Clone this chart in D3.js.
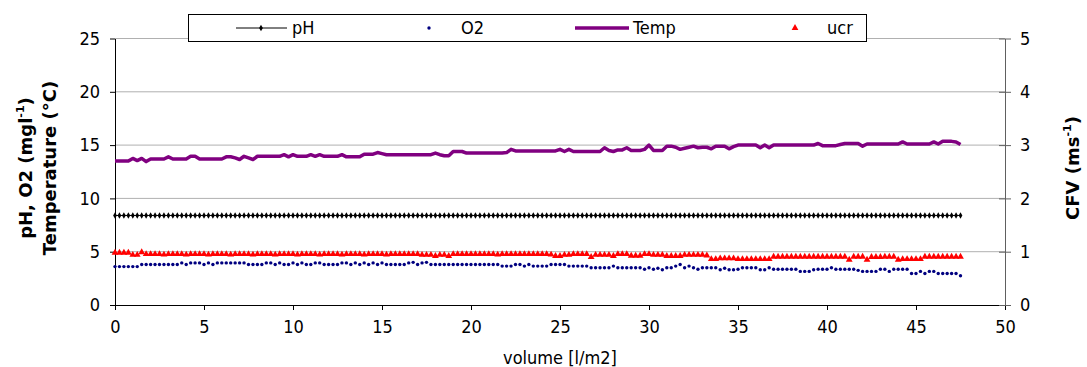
<!DOCTYPE html>
<html>
<head>
<meta charset="utf-8">
<script src="https://cdn.jsdelivr.net/npm/d3@7"></script>
<style>
  body { margin: 0; background: #fff; }
  svg { display: block; }
</style>
</head>
<body>
<div id="chart"></div>
<script>
// readings, one every 0.25 l/m2
const volume = [
  0,0.25,0.5,0.75,1,1.25,1.5,1.75,2,2.25,2.5,2.75,3,3.25,3.5,3.75,4,4.25,4.5,4.75,
  5,5.25,5.5,5.75,6,6.25,6.5,6.75,7,7.25,7.5,7.75,8,8.25,8.5,8.75,9,9.25,9.5,9.75,
  10,10.25,10.5,10.75,11,11.25,11.5,11.75,12,12.25,12.5,12.75,13,13.25,13.5,13.75,14,14.25,14.5,14.75,
  15,15.25,15.5,15.75,16,16.25,16.5,16.75,17,17.25,17.5,17.75,18,18.25,18.5,18.75,19,19.25,19.5,19.75,
  20,20.25,20.5,20.75,21,21.25,21.5,21.75,22,22.25,22.5,22.75,23,23.25,23.5,23.75,24,24.25,24.5,24.75,
  25,25.25,25.5,25.75,26,26.25,26.5,26.75,27,27.25,27.5,27.75,28,28.25,28.5,28.75,29,29.25,29.5,29.75,
  30,30.25,30.5,30.75,31,31.25,31.5,31.75,32,32.25,32.5,32.75,33,33.25,33.5,33.75,34,34.25,34.5,34.75,
  35,35.25,35.5,35.75,36,36.25,36.5,36.75,37,37.25,37.5,37.75,38,38.25,38.5,38.75,39,39.25,39.5,39.75,
  40,40.25,40.5,40.75,41,41.25,41.5,41.75,42,42.25,42.5,42.75,43,43.25,43.5,43.75,44,44.25,44.5,44.75,
  45,45.25,45.5,45.75,46,46.25,46.5,46.75,47,47.25,47.5
];

const pH = [
  8.4,8.4,8.4,8.4,8.4,8.4,8.4,8.4,8.4,8.4,8.4,8.4,8.4,8.4,8.4,8.4,8.4,8.4,8.4,8.4,
  8.4,8.4,8.4,8.4,8.4,8.4,8.4,8.4,8.4,8.4,8.4,8.4,8.4,8.4,8.4,8.4,8.4,8.4,8.4,8.4,
  8.4,8.4,8.4,8.4,8.4,8.4,8.4,8.4,8.4,8.4,8.4,8.4,8.4,8.4,8.4,8.4,8.4,8.4,8.4,8.4,
  8.4,8.4,8.4,8.4,8.4,8.4,8.4,8.4,8.4,8.4,8.4,8.4,8.4,8.4,8.4,8.4,8.4,8.4,8.4,8.4,
  8.4,8.4,8.4,8.4,8.4,8.4,8.4,8.4,8.4,8.4,8.4,8.4,8.4,8.4,8.4,8.4,8.4,8.4,8.4,8.4,
  8.4,8.4,8.4,8.4,8.4,8.4,8.4,8.4,8.4,8.4,8.4,8.4,8.4,8.4,8.4,8.4,8.4,8.4,8.4,8.4,
  8.4,8.4,8.4,8.4,8.4,8.4,8.4,8.4,8.4,8.4,8.4,8.4,8.4,8.4,8.4,8.4,8.4,8.4,8.4,8.4,
  8.4,8.4,8.4,8.4,8.4,8.4,8.4,8.4,8.4,8.4,8.4,8.4,8.4,8.4,8.4,8.4,8.4,8.4,8.4,8.4,
  8.4,8.4,8.4,8.4,8.4,8.4,8.4,8.4,8.4,8.4,8.4,8.4,8.4,8.4,8.4,8.4,8.4,8.4,8.4,8.4,
  8.4,8.4,8.4,8.4,8.4,8.4,8.4,8.4,8.4,8.4,8.4
];

const O2 = [
  3.6,3.6,3.6,3.6,3.6,3.6,3.8,3.8,3.8,3.8,
  3.8,3.8,3.8,3.8,3.8,3.95,3.8,3.95,3.95,3.95,
  3.8,3.95,3.8,3.95,3.95,3.95,3.95,3.95,3.95,3.95,
  3.8,3.8,3.8,3.8,3.95,3.95,3.8,3.95,3.8,3.8,
  3.95,3.8,3.95,3.8,3.8,3.95,3.95,3.8,3.8,3.8,
  3.8,3.95,3.95,3.8,3.95,3.8,3.95,3.8,3.95,3.8,
  3.95,3.8,3.8,3.8,3.8,3.8,3.95,4.0,3.8,3.95,
  4.0,3.8,3.8,3.8,3.8,3.8,3.8,3.8,3.8,3.8,
  3.8,3.8,3.8,3.8,3.8,3.8,3.8,3.65,3.65,3.65,
  3.8,3.8,3.65,3.8,3.65,3.65,3.65,3.65,3.8,3.8,
  3.8,3.8,3.65,3.65,3.65,3.65,3.65,3.5,3.5,3.5,
  3.5,3.5,3.65,3.5,3.5,3.5,3.5,3.5,3.5,3.35,
  3.5,3.35,3.45,3.3,3.5,3.5,3.65,3.8,3.5,3.65,
  3.5,3.35,3.5,3.5,3.5,3.5,3.3,3.45,3.3,3.3,
  3.35,3.5,3.5,3.5,3.5,3.3,3.3,3.5,3.35,3.35,
  3.35,3.35,3.35,3.35,3.15,3.15,3.15,3.3,3.35,3.35,
  3.35,3.5,3.35,3.35,3.35,3.35,3.35,3.25,3.15,3.15,
  3.15,3.15,3.35,3.35,3.15,3.35,3.35,3.35,3.35,2.95,
  2.95,3.15,2.95,3.15,3.15,2.95,2.95,2.95,2.95,2.95,
  2.75
];

const temp = [
  13.5,13.5,13.5,13.5,13.75,13.55,13.75,13.45,13.7,13.7,
  13.7,13.7,13.9,13.7,13.7,13.7,13.7,13.95,13.95,13.7,
  13.7,13.7,13.7,13.7,13.7,13.9,13.9,13.8,13.65,13.95,
  13.8,13.65,13.95,13.95,13.95,13.95,13.95,13.95,14.1,13.9,
  14.1,13.95,13.95,13.95,14.1,13.95,14.1,13.95,13.95,13.95,
  13.95,14.1,13.9,13.9,13.9,13.9,14.15,14.15,14.15,14.3,
  14.2,14.1,14.1,14.1,14.1,14.1,14.1,14.1,14.1,14.1,
  14.1,14.1,14.25,14.1,14.0,14.0,14.4,14.4,14.4,14.25,
  14.25,14.25,14.25,14.25,14.25,14.25,14.25,14.25,14.3,14.6,
  14.45,14.45,14.45,14.45,14.45,14.45,14.45,14.45,14.45,14.45,
  14.6,14.4,14.6,14.4,14.4,14.4,14.4,14.4,14.4,14.4,
  14.75,14.5,14.4,14.55,14.55,14.75,14.5,14.5,14.5,14.6,
  15.0,14.5,14.5,14.5,14.9,14.9,14.8,14.6,14.7,14.8,
  14.9,14.75,14.8,14.8,14.65,14.9,14.9,14.9,14.65,14.85,
  15.0,15.0,15.0,15.0,15.0,14.75,15.0,14.75,15.0,15.0,
  15.0,15.0,15.0,15.0,15.0,15.0,15.0,15.0,15.15,14.95,
  14.95,14.95,14.95,15.05,15.15,15.15,15.15,15.15,14.9,15.1,
  15.1,15.1,15.1,15.1,15.1,15.1,15.1,15.3,15.1,15.1,
  15.1,15.1,15.1,15.1,15.3,15.1,15.35,15.35,15.35,15.3,
  15.05
];

// CFV, right axis
const ucr = [
  0.98,0.98,0.98,0.98,0.94,0.94,0.99,0.955,0.955,0.955,
  0.955,0.945,0.955,0.955,0.955,0.955,0.945,0.955,0.955,0.955,
  0.955,0.945,0.955,0.955,0.955,0.955,0.945,0.955,0.955,0.955,
  0.955,0.945,0.955,0.955,0.955,0.955,0.945,0.955,0.955,0.955,
  0.955,0.945,0.955,0.955,0.955,0.955,0.945,0.955,0.955,0.955,
  0.955,0.945,0.955,0.955,0.955,0.955,0.945,0.955,0.955,0.955,
  0.955,0.945,0.955,0.955,0.955,0.955,0.955,0.955,0.955,0.94,
  0.94,0.94,0.92,0.94,0.94,0.92,0.955,0.955,0.955,0.955,
  0.955,0.955,0.955,0.955,0.955,0.955,0.945,0.955,0.955,0.955,
  0.955,0.955,0.955,0.955,0.955,0.955,0.955,0.955,0.945,0.92,
  0.92,0.94,0.94,0.955,0.955,0.955,0.955,0.9,0.94,0.94,
  0.94,0.94,0.92,0.955,0.955,0.955,0.925,0.925,0.925,0.955,
  0.955,0.94,0.94,0.94,0.92,0.92,0.92,0.92,0.94,0.94,
  0.94,0.94,0.94,0.93,0.86,0.86,0.875,0.875,0.875,0.875,
  0.86,0.86,0.86,0.86,0.86,0.86,0.86,0.86,0.905,0.905,
  0.905,0.905,0.905,0.905,0.905,0.905,0.905,0.905,0.905,0.905,
  0.905,0.905,0.905,0.905,0.905,0.85,0.905,0.905,0.905,0.85,
  0.9,0.9,0.9,0.905,0.905,0.905,0.85,0.86,0.86,0.86,
  0.86,0.86,0.905,0.905,0.905,0.905,0.905,0.905,0.905,0.905,
  0.905
];

const xTicks = [0, 5, 10, 15, 20, 25, 30, 35, 40, 45, 50];
const yLeftTicks = [0, 5, 10, 15, 20, 25];
const yRightTicks = [0, 1, 2, 3, 4, 5];
const legendNames = ["pH", "O2", "Temp", "ucr"];

const W = 1087, H = 367;
const margin = { top: 38.5, right: 82, bottom: 62, left: 115 },
    width = W - margin.left - margin.right,
    height = H - margin.top - margin.bottom;

const tickFont = "'DejaVu Sans Condensed', 'DejaVu Sans', sans-serif";
const titleFont = "'DejaVu Sans', sans-serif";

const root = d3.select("#chart").append("svg")
    .attr("width", W)
    .attr("height", H);

const svg = root.append("g")
    .attr("transform", `translate(${margin.left},${margin.top})`);

const x = d3.scaleLinear().domain([0, 50]).range([0, width]);
const yL = d3.scaleLinear().domain([0, 25]).range([height, 0]);
const yR = d3.scaleLinear().domain([0, 5]).range([height, 0]);

const rows = volume.map((v, i) => ({ v: v, pH: pH[i], O2: O2[i], temp: temp[i], ucr: ucr[i] }));

// gridlines
svg.append("g").selectAll("line")
    .data(yLeftTicks.filter(d => d > 0))
    .enter().append("line")
    .attr("x1", 0).attr("x2", width)
    .attr("y1", d => yL(d)).attr("y2", d => yL(d))
    .attr("stroke", "#b0b0b0")
    .attr("stroke-width", 1);

// axes
const xAxis = svg.append("g")
    .attr("transform", `translate(0,${height})`)
    .call(d3.axisBottom(x).tickValues(xTicks).tickSize(5).tickSizeOuter(0).tickPadding(10));

const leftAxis = svg.append("g")
    .call(d3.axisLeft(yL).tickValues(yLeftTicks).tickSize(5).tickSizeOuter(0).tickPadding(10));

const rightAxis = svg.append("g")
    .attr("transform", `translate(${width},0)`)
    .call(d3.axisRight(yR).tickValues(yRightTicks).tickFormat(d3.format("d"))
        .tickSize(6).tickSizeOuter(0).tickPadding(9));

rightAxis.selectAll(".tick line").attr("x1", -6);
rightAxis.selectAll("path, line").attr("stroke", "#606060");

[xAxis, leftAxis, rightAxis].forEach(a => {
    a.attr("font-family", tickFont).attr("font-size", 18);
    a.selectAll("text").attr("fill", "#000");
});
xAxis.selectAll("path, line").attr("stroke", "#000");
leftAxis.selectAll("path, line").attr("stroke", "#000");

// pH: thin line with small diamonds
svg.append("path")
    .datum(rows)
    .attr("fill", "none")
    .attr("stroke", "#000")
    .attr("stroke-width", 1)
    .attr("d", d3.line().x(d => x(d.v)).y(d => yL(d.pH)));

const diamond = d3.symbol().type(d3.symbolDiamond).size(12);
svg.append("g").selectAll("path")
    .data(rows)
    .enter().append("path")
    .attr("d", diamond)
    .attr("transform", d => `translate(${x(d.v)},${yL(d.pH)})`)
    .attr("fill", "#000");

// O2 dots
svg.append("g").selectAll("circle")
    .data(rows)
    .enter().append("circle")
    .attr("cx", d => x(d.v))
    .attr("cy", d => yL(d.O2))
    .attr("r", 1.7)
    .attr("fill", "#000080");

// Temp line
svg.append("path")
    .datum(rows)
    .attr("fill", "none")
    .attr("stroke", "#800080")
    .attr("stroke-width", 3.5)
    .attr("stroke-linejoin", "round")
    .attr("d", d3.line().x(d => x(d.v)).y(d => yL(d.temp)));

// ucr triangles
const tri = d3.symbol().type(d3.symbolTriangle).size(20);
svg.append("g").selectAll("path")
    .data(rows)
    .enter().append("path")
    .attr("d", tri)
    .attr("transform", d => `translate(${x(d.v)},${yR(d.ucr)})`)
    .attr("fill", "#ff0000");

// axis titles
const leftTitle1 = root.append("text")
    .attr("transform", "translate(32,168) rotate(-90)")
    .attr("text-anchor", "middle")
    .attr("font-family", titleFont)
    .attr("font-weight", "bold")
    .attr("font-size", 18);
leftTitle1.append("tspan").text("pH, O2 (mgl");
leftTitle1.append("tspan").attr("dy", -8).attr("font-size", 11).text("-1");
leftTitle1.append("tspan").attr("dy", 8).text(")");

root.append("text")
    .attr("transform", "translate(56,168) rotate(-90)")
    .attr("text-anchor", "middle")
    .attr("font-family", titleFont)
    .attr("font-weight", "bold")
    .attr("font-size", 18)
    .text("Temperature (°C)");

const rightTitle = root.append("text")
    .attr("transform", "translate(1079,168) rotate(-90)")
    .attr("text-anchor", "middle")
    .attr("font-family", titleFont)
    .attr("font-weight", "bold")
    .attr("font-size", 18);
rightTitle.append("tspan").text("CFV (ms");
rightTitle.append("tspan").attr("dy", -8).attr("font-size", 11).text("-1");
rightTitle.append("tspan").attr("dy", 8).text(")");

root.append("text")
    .attr("x", margin.left + width / 2)
    .attr("y", 364)
    .attr("text-anchor", "middle")
    .attr("font-family", tickFont)
    .attr("font-size", 18)
    .text("volume [l/m2]");

// legend
const lg = root.append("g");
lg.append("rect")
    .attr("x", 188.5).attr("y", 14.5)
    .attr("width", 678).attr("height", 27)
    .attr("fill", "#fff")
    .attr("stroke", "#000");

const legendText = [292, 461, 633, 827];
lg.selectAll("text")
    .data(legendNames)
    .enter().append("text")
    .attr("x", (d, i) => legendText[i])
    .attr("y", 34)
    .attr("font-family", tickFont)
    .attr("font-size", 18)
    .text(d => d);

lg.append("line").attr("x1", 236).attr("x2", 287).attr("y1", 28).attr("y2", 28)
    .attr("stroke", "#000");
lg.append("path").attr("d", diamond).attr("transform", "translate(261,28)").attr("fill", "#000");
lg.append("circle").attr("cx", 429).attr("cy", 28).attr("r", 1.7).attr("fill", "#000080");
lg.append("line").attr("x1", 575).attr("x2", 629).attr("y1", 28).attr("y2", 28)
    .attr("stroke", "#800080").attr("stroke-width", 3.5);
lg.append("path").attr("d", tri).attr("transform", "translate(795,28)").attr("fill", "#ff0000");
</script>
</body>
</html>
